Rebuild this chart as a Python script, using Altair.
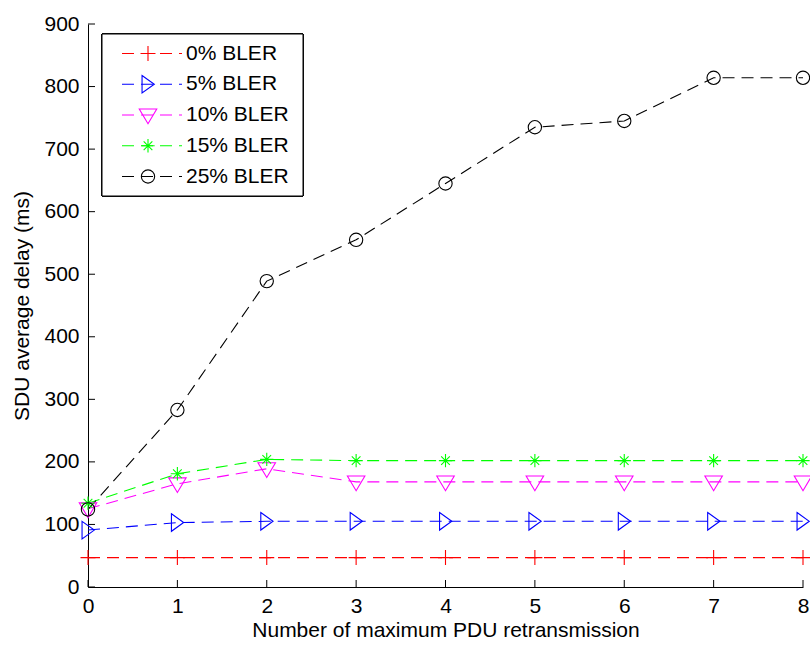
import altair as alt
import pandas as pd

x_vals = [0, 1, 2, 3, 4, 5, 6, 7, 8]
series_names = ["0% BLER", "5% BLER", "10% BLER", "15% BLER", "25% BLER"]
bler0 = [47, 47, 47, 47, 47, 47, 47, 47, 47]
bler5 = [91, 103, 105, 105, 105, 105, 105, 105, 105]
bler10 = [125, 165, 189, 168, 168, 168, 168, 168, 168]
bler15 = [134, 181, 204, 202, 202, 202, 202, 202, 202]
bler25 = [124, 283, 489, 555, 645, 735, 745, 814, 814]
x_ticks = [0, 1, 2, 3, 4, 5, 6, 7, 8]
y_ticks = [0, 100, 200, 300, 400, 500, 600, 700, 800, 900]

colors = ["#ff0000", "#0000ff", "#ff00ff", "#00ff00", "#000000"]
shapes = [
    "M-1.07,0L1.07,0M0,-1.07L0,1.07",
    "M-0.85,-1.25L0.9,0L-0.85,1.25Z",
    "M-1.25,-0.85L1.25,-0.85L0,1.25Z",
    "M-0.95,0L0.95,0M0,-0.95L0,0.95M-0.62,-0.62L0.62,0.62M-0.62,0.62L0.62,-0.62",
    "M0.95,0A0.95,0.95 0 1,1 -0.95,0A0.95,0.95 0 1,1 0.95,0Z",
]

rows = []
for name, vals in zip(series_names, [bler0, bler5, bler10, bler15, bler25]):
    for xv, yv in zip(x_vals, vals):
        rows.append({"series": name, "x": xv, "y": yv})
df = pd.DataFrame(rows)
leg_df = pd.DataFrame({"series": series_names})
xt_df = pd.DataFrame({"t": x_ticks})
yt_df = pd.DataFrame({"t": y_ticks})

W, H = 715, 563
FONT = "Liberation Sans"
FS = 21

color_scale = alt.Scale(domain=series_names, range=colors)
shape_scale = alt.Scale(domain=series_names, range=shapes)

xs = alt.Scale(domain=[0, 8], nice=False, zero=False)
ys = alt.Scale(domain=[0, 900], nice=False)

x_enc = alt.X("x:Q", scale=xs, axis=alt.Axis(
    values=x_ticks, format="d", labelFlush=False,
    title="Number of maximum PDU retransmission", grid=False,
    tickSize=0, labelPadding=8, titlePadding=3, domainColor="#000000",
    labelFontSize=FS, titleFontSize=FS, labelFont=FONT, titleFont=FONT,
    labelColor="#000000", titleColor="#000000", titleFontWeight="normal"))
y_enc = alt.Y("y:Q", scale=ys, axis=alt.Axis(
    values=y_ticks, format="d", labelFlush=False,
    title="SDU average delay (ms)", grid=False,
    tickSize=0, labelPadding=9, titlePadding=11, domainColor="#000000",
    labelFontSize=FS, titleFontSize=FS, labelFont=FONT, titleFont=FONT,
    labelColor="#000000", titleColor="#000000", titleFontWeight="normal"))

lines = alt.Chart(df).mark_line(strokeWidth=1.1, strokeDash=[12, 7]).encode(
    x=x_enc, y=y_enc,
    color=alt.Color("series:N", scale=color_scale, legend=None),
    detail="series:N",
)
points = alt.Chart(df).mark_point(filled=False, strokeWidth=1.1, size=196, opacity=1).encode(
    x=alt.X("x:Q", scale=xs), y=alt.Y("y:Q", scale=ys),
    color=alt.Color("series:N", scale=color_scale, legend=None),
    shape=alt.Shape("series:N", scale=shape_scale, legend=None),
)
xticks = alt.Chart(xt_df).mark_rule(color="#000000", strokeWidth=1).encode(
    x=alt.X("t:Q", scale=xs), y=alt.value(H - 7), y2=alt.value(H))
yticks = alt.Chart(yt_df).mark_rule(color="#000000", strokeWidth=1).encode(
    y=alt.Y("t:Q", scale=ys), x=alt.value(0), x2=alt.value(7))

main = alt.layer(lines, points, xticks, yticks)

leg_y = alt.Y("series:N", scale=alt.Scale(type="point", domain=series_names,
                                          range=[29.5, 152.5], padding=0), axis=None)
box = alt.Chart(leg_df).mark_rect(fill="#ffffff", stroke="#000000", strokeWidth=1).encode(
    x=alt.value(14), x2=alt.value(215), y=alt.value(10), y2=alt.value(172))
leg_lines = alt.Chart(leg_df).mark_rule(strokeWidth=1.1, strokeDash=[12, 7]).encode(
    x=alt.value(34), x2=alt.value(94), y=leg_y,
    color=alt.Color("series:N", scale=color_scale, legend=None))
leg_pts = alt.Chart(leg_df).mark_point(filled=False, strokeWidth=1.1, size=196, opacity=1).encode(
    x=alt.value(60), y=leg_y,
    color=alt.Color("series:N", scale=color_scale, legend=None),
    shape=alt.Shape("series:N", scale=shape_scale, legend=None))
leg_txt = alt.Chart(leg_df).mark_text(align="left", baseline="middle", fontSize=FS,
                                      font=FONT, color="#000000").encode(
    x=alt.value(98), y=leg_y, text="series:N")
legend = alt.layer(box, leg_lines, leg_pts, leg_txt)

chart = alt.layer(main, legend).resolve_scale(y="independent").properties(
    width=W, height=H,
    autosize=alt.AutoSizeParams(type="none"),
    padding={"left": 88, "top": 24, "right": 7, "bottom": 59},
    background="#ffffff",
).configure_view(stroke=None).configure_axis(domainWidth=1)

chart.save("out.html", embed_options={"renderer": "svg", "actions": False})
